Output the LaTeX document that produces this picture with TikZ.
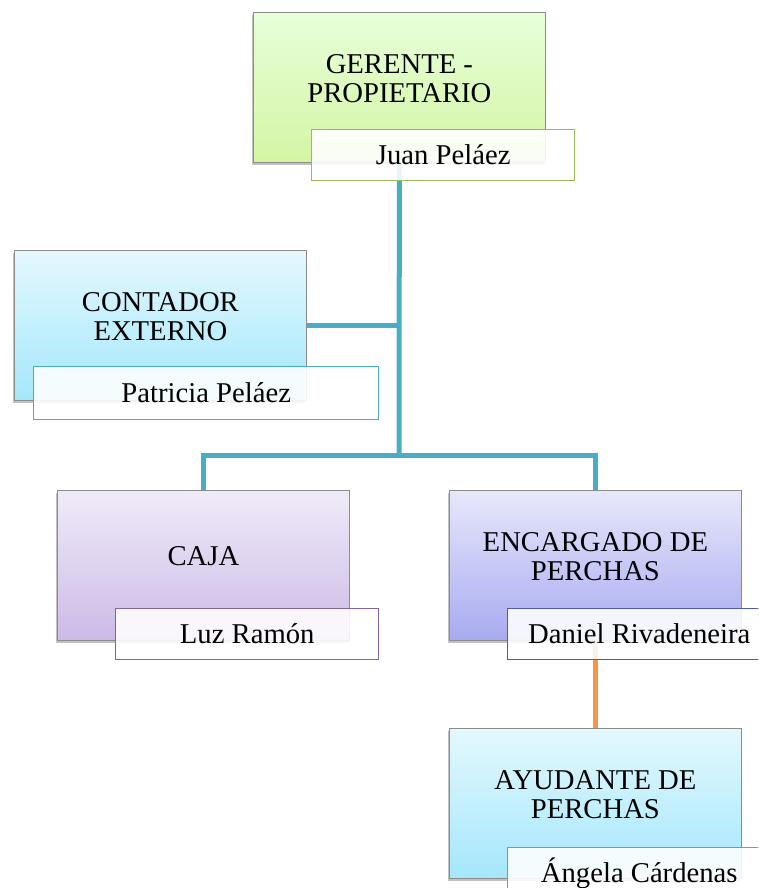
\documentclass[tikz,border=0pt]{standalone}
\usepackage{fontspec}
\setmainfont{Liberation Serif}
\usetikzlibrary{positioning,calc,shadows}
\pgfdeclarelayer{background}
\pgfsetlayers{background,main}

\definecolor{linkteal}{HTML}{4BACC6}
\definecolor{linkorange}{HTML}{F79646}
\definecolor{edgegreen}{HTML}{9BBB59}
\definecolor{edgeteal}{HTML}{4BACC6}
\definecolor{edgepurple}{HTML}{8064A2}
\definecolor{edgeblue}{HTML}{4F5BB3}

\tikzset{
  post/.style={draw=black!45, line width=0.6pt, anchor=north west,
    minimum width=219pt, minimum height=112.5pt, inner sep=0pt,
    drop shadow={shadow xshift=-1.2pt, shadow yshift=-1.8pt, opacity=0.35, fill=black!70}},
  greenpost/.style={post, top color=green!10!white!95!yellow, bottom color={rgb,255:red,212;green,245;blue,164}},
  cyanpost/.style={post, top color={rgb,255:red,228;green,248;blue,254}, bottom color={rgb,255:red,164;green,231;blue,251}},
  purplepost/.style={post, top color={rgb,255:red,240;green,235;blue,248}, bottom color={rgb,255:red,204;green,186;blue,232}},
  bluepost/.style={post, top color={rgb,255:red,231;green,232;blue,251}, bottom color={rgb,255:red,168;green,170;blue,240}},
  title/.style={align=center, inner sep=0pt, font=\fontsize{21.5}{22}\selectfont},
  namebox/.style={draw=#1, line width=1.1pt, fill=white, fill opacity=0.88, text opacity=1,
    anchor=north west, minimum width=197.25pt, minimum height=38.25pt, inner sep=0pt,
    font=\fontsize{21.5}{22}\selectfont},
  link/.style={draw=linkteal, line width=3.75pt},
  sublink/.style={draw=linkorange, line width=3.4pt}
}

\begin{document}
\begin{tikzpicture}[x=0.75pt, y=-0.75pt]
\useasboundingbox (0,0) rectangle (758,888);
\clip (0,0) rectangle (758,888);

% boxes
\node[greenpost] (gerente) at (253,12) {};
\node[cyanpost] (contador) at (14,250) {};
\node[purplepost] (caja) at (57,490) {};
\node[bluepost] (encargado) at (449,490) {};
\node[cyanpost] (ayudante) at (449,728) {};

% titles
\node[title] (gerentetxt) at ($(gerente.center)+(0,-9)$) {GERENTE -\\PROPIETARIO};
\node[title] (contadortxt) at ($(contador.center)+(0,-9)$) {CONTADOR\\EXTERNO};
\node[title] (cajatxt) at ($(caja.center)+(0,-9)$) {CAJA};
\node[title] (encargadotxt) at ($(encargado.center)+(0,-9)$) {ENCARGADO DE\\PERCHAS};
\node[title] (ayudantetxt) at ($(ayudante.center)+(0,-9)$) {AYUDANTE DE\\PERCHAS};

% names
\node[namebox=edgegreen] (juan) at ($(gerente.south west)+(58,-34)$) {Juan Peláez};
\node[namebox=edgeteal, minimum width=258.75pt, minimum height=39.75pt] (patricia) at ($(contador.south west)+(19,-35)$) {Patricia Peláez};
\node[namebox=edgepurple] (luz) at ($(caja.south west)+(58,-33)$) {Luz Ramón};
\node[namebox=edgeblue] (daniel) at ($(encargado.south west)+(58,-33)$) {Daniel Rivadeneira};
\node[namebox=edgeteal] (angela) at ($(ayudante.south west)+(58,-32)$) {Ángela Cárdenas};

% connectors
\coordinate (bus) at (399,455);
\begin{pgfonlayer}{background}
\draw[link] (gerente.south) -- (bus);
\draw[link] (contador.east) -- (contador.east -| bus);
\draw[link] (caja.north) |- (bus) -| (encargado.north);
\draw[sublink] (encargado.south) -- (ayudante.north);
\end{pgfonlayer}

\end{tikzpicture}
\end{document}
